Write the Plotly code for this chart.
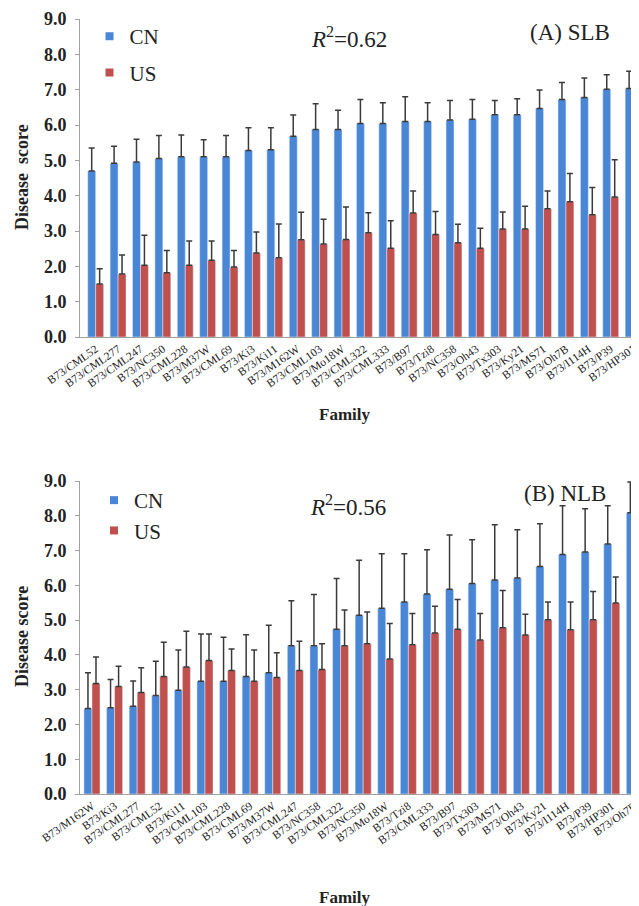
import plotly.graph_objects as go

# ---- Panel A: SLB ----
fam_a = ["CML52", "CML277", "CML247", "NC350", "CML228", "M37W", "CML69", "Ki3", "Ki11",
         "M162W", "CML103", "Mo18W", "CML322", "CML333", "B97", "Tzi8", "NC358", "Oh43",
         "Tx303", "Ky21", "MS71", "Oh7B", "I114H", "P39", "HP301"]
cn_a = [4.70, 4.92, 4.95, 5.05, 5.10, 5.10, 5.10, 5.28, 5.30, 5.68, 5.87, 5.87, 6.04, 6.04,
        6.10, 6.10, 6.14, 6.16, 6.29, 6.29, 6.47, 6.72, 6.78, 7.01, 7.03]
cn_a_top = [5.35, 5.40, 5.60, 5.70, 5.72, 5.58, 5.70, 5.92, 5.92, 6.28, 6.60, 6.42, 6.72, 6.63,
            6.80, 6.63, 6.69, 6.72, 6.69, 6.74, 6.99, 7.20, 7.33, 7.42, 7.52]
us_a = [1.50, 1.78, 2.03, 1.82, 2.03, 2.17, 1.98, 2.38, 2.24, 2.75, 2.63, 2.76, 2.95, 2.51,
        3.51, 2.90, 2.67, 2.51, 3.06, 3.06, 3.63, 3.83, 3.46, 3.96, 3.96]
us_a_top = [1.93, 2.32, 2.88, 2.45, 2.72, 2.72, 2.45, 2.97, 3.20, 3.53, 3.33, 3.68, 3.52, 3.29,
            4.13, 3.55, 3.19, 3.08, 3.54, 3.70, 4.13, 4.63, 4.23, 5.02, 4.85]

# ---- Panel B: NLB ----
fam_b = ["M162W", "Ki3", "CML277", "CML52", "Ki11", "CML103", "CML228", "CML69", "M37W",
         "CML247", "NC358", "CML322", "NC350", "Mo18W", "Tzi8", "CML333", "B97", "Tx303",
         "MS71", "Oh43", "Ky21", "I114H", "P39", "HP301", "Oh7B"]
cn_b = [2.46, 2.48, 2.52, 2.83, 2.98, 3.24, 3.24, 3.38, 3.49, 4.26, 4.26, 4.74, 5.14, 5.34,
        5.52, 5.75, 5.89, 6.05, 6.15, 6.21, 6.54, 6.89, 6.96, 7.19, 8.09]
cn_b_top = [3.49, 3.29, 3.25, 3.82, 4.14, 4.60, 4.51, 4.58, 4.85, 5.56, 5.74, 6.20, 6.72, 6.91,
            6.91, 7.02, 7.45, 7.31, 7.74, 7.60, 7.77, 8.29, 8.20, 8.29, 8.97]
us_b = [3.18, 3.09, 2.92, 3.38, 3.65, 3.84, 3.55, 3.24, 3.35, 3.55, 3.58, 4.26, 4.32, 3.88,
        4.29, 4.63, 4.74, 4.43, 4.78, 4.57, 5.01, 4.72, 5.01, 5.49, 5.86]
us_b_top = [3.94, 3.67, 3.63, 4.36, 4.68, 4.60, 4.17, 4.14, 4.06, 4.39, 4.32, 5.29, 5.23, 4.90,
            5.19, 5.40, 5.59, 5.19, 5.85, 5.17, 5.52, 5.52, 5.82, 6.24, 6.68]

y_ticks = [0, 1, 2, 3, 4, 5, 6, 7, 8, 9]

BLUE = "#4A86D6"
RED = "#C0504D"
ERR = "#3a3a3a"
SERIF = "Liberation Serif"

lab_a = ["B73/" + f for f in fam_a]
lab_b = ["B73/" + f for f in fam_b]


def plus(top, val):
    return [round(t - v, 3) for t, v in zip(top, val)]


def err(top, val):
    return dict(type="data", symmetric=False, array=plus(top, val), arrayminus=[0] * len(val),
                color=ERR, thickness=1.5, width=3)


fig = go.Figure()
fig.add_trace(go.Bar(x=lab_a, y=cn_a, name="CN", marker_color=BLUE, error_y=err(cn_a_top, cn_a),
                     xaxis="x", yaxis="y", showlegend=False))
fig.add_trace(go.Bar(x=lab_a, y=us_a, name="US", marker_color=RED, error_y=err(us_a_top, us_a),
                     xaxis="x", yaxis="y", showlegend=False))
fig.add_trace(go.Bar(x=lab_b, y=cn_b, name="CN", marker_color=BLUE, error_y=err(cn_b_top, cn_b),
                     xaxis="x2", yaxis="y2", showlegend=False))
fig.add_trace(go.Bar(x=lab_b, y=us_b, name="US", marker_color=RED, error_y=err(us_b_top, us_b),
                     xaxis="x2", yaxis="y2", showlegend=False))

# legend entries (small square swatches as in the reference)
for nm, col, lg, ax, grp in [("CN", BLUE, "legend", ("x", "y"), "a1"), ("US", RED, "legend", ("x", "y"), "a2"),
                             ("CN", BLUE, "legend2", ("x2", "y2"), "b1"), ("US", RED, "legend2", ("x2", "y2"), "b2")]:
    fig.add_trace(go.Scatter(x=[None], y=[None], mode="markers", name=nm,
                             marker=dict(symbol="square", size=8, color=col),
                             xaxis=ax[0], yaxis=ax[1], legend=lg, legendgroup=grp, showlegend=True))

W, H = 639, 906
# the page body adds an 8 px margin; positions below are taken from the reference minus that offset
OFF = 8


def px(x):
    return (x - OFF) / W


def py(y):
    return 1 - (y - OFF) / H


xcommon = dict(type="category", tickangle=-35, showline=True, linecolor="#a0a0a0", linewidth=1,
               ticks="", showgrid=False, zeroline=False, automargin=False,
               tickfont=dict(family=SERIF, size=11.5, color="#222"))
ycommon = dict(range=[0, 9], tickvals=y_ticks, tickformat=".1f", showline=True, linecolor="#a0a0a0",
               linewidth=1, ticks="outside", ticklen=4, tickcolor="#a0a0a0", showgrid=False,
               zeroline=False, automargin=False, ticklabelstandoff=5,
               tickfont=dict(family=SERIF, size=18, color="#222", weight="bold"))

fig.update_layout(
    width=W, height=H, margin=dict(l=0, r=0, t=0, b=0),
    paper_bgcolor="white", plot_bgcolor="white",
    barmode="group", bargap=0.29, bargroupgap=0,
    xaxis=dict(xcommon, domain=[px(80), 1], range=[-0.70, 24.62], anchor="y"),
    yaxis=dict(ycommon, domain=[py(337), py(19)], anchor="x"),
    xaxis2=dict(xcommon, domain=[px(80), 1], range=[-0.53, 24.56], anchor="y2"),
    yaxis2=dict(ycommon, domain=[py(794), py(481)], anchor="x2"),
    legend=dict(x=px(89.5), y=py(16), xanchor="left", yanchor="top", bgcolor="rgba(0,0,0,0)",
                font=dict(family=SERIF, size=21, color="#222"), tracegroupgap=6, itemwidth=30),
    legend2=dict(x=px(94), y=py(480), xanchor="left", yanchor="top", bgcolor="rgba(0,0,0,0)",
                 font=dict(family=SERIF, size=21, color="#222"), tracegroupgap=0, itemwidth=30),
    showlegend=True,
)

ann_font = dict(family=SERIF, size=23, color="#222")
bold17 = dict(family=SERIF, size=17, color="#222", weight="bold")
bold18 = dict(family=SERIF, size=18, color="#222", weight="bold")
anns = [
    dict(text="<i>R</i><sup>2</sup>=0.62", x=px(349), y=py(37), font=ann_font),
    dict(text="(A) SLB", x=px(570), y=py(32), font=ann_font),
    dict(text="<i>R</i><sup>2</sup>=0.56", x=px(348), y=py(505), font=ann_font),
    dict(text="(B) NLB", x=px(565), y=py(494), font=ann_font),
    dict(text="Family", x=px(345), y=py(415), font=bold17),
    dict(text="Family", x=px(345), y=py(897), font=bold17),
    dict(text="Disease  score", x=px(22), y=py(177), textangle=-90, font=bold18),
    dict(text="Disease score", x=px(22), y=py(637), textangle=-90, font=bold18),
]
for a in anns:
    a.update(xref="paper", yref="paper", showarrow=False, xanchor="center", yanchor="middle")
fig.update_layout(annotations=anns)

fig.write_html("out.html")
